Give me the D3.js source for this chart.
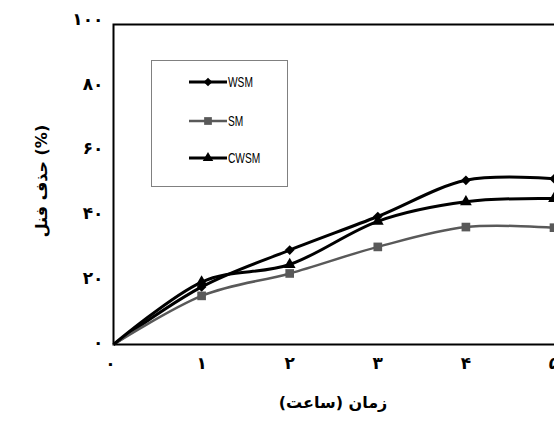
<!DOCTYPE html>
<html><head><meta charset="utf-8">
<script src="https://cdn.jsdelivr.net/npm/d3@7"></script>
<style>html,body{margin:0;padding:0;background:#fff;overflow:hidden}</style>
</head><body>
<svg id="chart" width="554" height="421"></svg>
<script>
const hours = [0, 1, 2, 3, 4, 5];
const wsm  = [0, 18.0, 29.5, 40.0, 51.3, 51.8];
const sm   = [0, 15.2, 22.2, 30.5, 36.7, 36.5];
const cwsm = [0, 19.5, 25.0, 38.5, 44.6, 45.6];
const xTicks = [0, 1, 2, 3, 4, 5];
const yTicks = [0, 20, 40, 60, 80, 100];
const seriesNames = ["WSM", "SM", "CWSM"];
const xTitle = "زمان (ساعت)";
const yTitle = "حذف فنل (%)";

const fa = v => String(v).replace(/\d/g, c => "۰۱۲۳۴۵۶۷۸۹"[+c]);

const svg = d3.select("#chart");
const x = d3.scaleLinear().domain([0, 5]).range([113.5, 554]);
const y = d3.scaleLinear().domain([0, 100]).range([344.5, 24.5]);

// frame
svg.append("rect").attr("x", x(0)).attr("y", y(100))
  .attr("width", 600 - x(0)).attr("height", y(0) - y(100))
  .attr("fill", "none").attr("stroke", "#000").attr("stroke-width", 2);

// axes (labels only)
const gx = svg.append("g").attr("transform", `translate(0,${y(0)})`)
  .call(d3.axisBottom(x).tickValues(xTicks).tickSize(0).tickPadding(12).tickFormat(fa));
const gy = svg.append("g").attr("transform", `translate(${x(0)},0)`)
  .call(d3.axisLeft(y).tickValues(yTicks).tickSize(0).tickPadding(10).tickFormat(fa));
[gx, gy].forEach(g => {
  g.select(".domain").remove();
  g.selectAll("text").attr("font-family", "DejaVu Sans").attr("font-weight", "bold")
    .attr("font-size", 17).attr("fill", "#000");
});
gx.selectAll(".tick").attr("transform", d => `translate(${x(d) - (d === 0 ? 3 : 0)},0)`);
gy.selectAll(".tick").attr("transform", d => `translate(0,${y(d) - 1.5 - d * 0.035})`);

// titles
svg.append("text").attr("x", 333).attr("y", 408).attr("text-anchor", "middle")
  .attr("font-family", "DejaVu Sans").attr("font-weight", "bold").attr("font-size", 16)
  .text(xTitle);
svg.append("text").attr("transform", "translate(47,181) rotate(-90)").attr("text-anchor", "middle")
  .attr("font-family", "DejaVu Sans").attr("font-weight", "bold").attr("font-size", 16)
  .text(yTitle);

const series = [
  {name: seriesNames[0], values: wsm,  color: "#000", shape: d3.symbolDiamond2 || d3.symbolDiamond, size: 60, w: 3},
  {name: seriesNames[1], values: sm,   color: "#595959", shape: d3.symbolSquare, size: 75, w: 2.5},
  {name: seriesNames[2], values: cwsm, color: "#000", shape: d3.symbolTriangle, size: 60, w: 3}
];

const line = d3.line().x((d, i) => x(hours[i])).y(d => y(d)).curve(d3.curveCardinal.tension(0));

series.forEach(s => {
  svg.append("path").attr("d", line(s.values)).attr("fill", "none")
    .attr("stroke", s.color).attr("stroke-width", s.w);
});
series.forEach(s => {
  svg.selectAll(null).data(s.values.slice(1)).enter().append("path")
    .attr("transform", (d, i) => `translate(${x(hours[i + 1])},${y(d)})`)
    .attr("d", d3.symbol().type(s.shape).size(s.size)).attr("fill", s.color);
});

// legend
const lg = svg.append("g");
lg.append("rect").attr("x", 151.5).attr("y", 60.5).attr("width", 136).attr("height", 126)
  .attr("fill", "#fff").attr("stroke", "#808080").attr("stroke-width", 1);
const ly = [82, 121, 158];
series.forEach((s, i) => {
  lg.append("line").attr("x1", 189).attr("x2", 227).attr("y1", ly[i]).attr("y2", ly[i])
    .attr("stroke", s.color).attr("stroke-width", s.w);
  lg.append("path").attr("transform", `translate(208,${ly[i]})`)
    .attr("d", d3.symbol().type(s.shape).size(s.size * 0.8)).attr("fill", s.color);
  lg.append("text").attr("transform", `translate(228,${ly[i] + 5}) scale(0.68,1)`)
    .attr("font-family", "Liberation Sans, Arial, sans-serif").attr("font-size", 15)
    .attr("fill", "#000").text(s.name);
});
</script>
</body></html>
